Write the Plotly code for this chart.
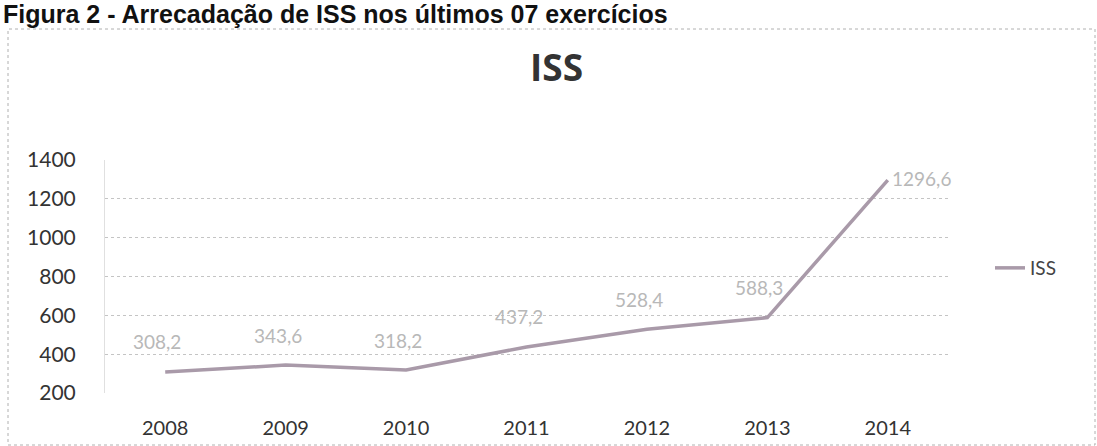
import plotly.graph_objects as go

years = ["2008", "2009", "2010", "2011", "2012", "2013", "2014"]
iss_values = [308.2, 343.6, 318.2, 437.2, 528.4, 588.3, 1296.6]
value_labels = ["308,2", "343,6", "318,2", "437,2", "528,4", "588,3", "1296,6"]
y_ticks = [200, 400, 600, 800, 1000, 1200, 1400]

W, H = 1097, 446
L, R, T, B = 105, 149, 160, 53
pw, ph = W - L - R, H - T - B

def px_x(px):
    return (px - L) / pw

def px_y(py):
    return (H - B - py) / ph

FONT = "Lato, Open Sans, sans-serif"

fig = go.Figure()
fig.add_trace(go.Scatter(
    x=years, y=iss_values, mode="lines", name="ISS",
    line=dict(color="#a99aa9", width=3.5),
))

for i, (v, lab) in enumerate(zip(iss_values, value_labels)):
    last = i == len(years) - 1
    fig.add_annotation(
        x=i, y=v, text=lab, showarrow=False,
        xanchor="left" if last else "center", yanchor="middle",
        xshift=2 if last else -8, yshift=2 if last else 30,
        font=dict(family=FONT, size=19, color="#b8b8b8"),
    )

fig.update_layout(
    width=W, height=H,
    margin=dict(l=L, r=R, t=T, b=B, autoexpand=False),
    paper_bgcolor="white", plot_bgcolor="white",
    showlegend=True,
    legend=dict(x=px_x(990), y=px_y(268), xanchor="left", yanchor="middle",
                font=dict(family=FONT, size=19, color="#444444"),
                bgcolor="rgba(0,0,0,0)"),
    xaxis=dict(type="category", range=[-0.5, len(years) - 0.5], showgrid=False, zeroline=False,
               showline=False, ticks="", ticklabelstandoff=21, automargin=False,
               tickfont=dict(family=FONT, size=20, color="#333333")),
    yaxis=dict(range=[200, 1400], tickvals=y_ticks, showgrid=True,
               gridcolor="#c4c4c4", griddash="dot", gridwidth=1,
               zeroline=False, showline=True, linecolor="#e0e0e0",
               ticklabelstandoff=24, automargin=False,
               tickfont=dict(family=FONT, size=21, color="#333333")),
)

fig.add_annotation(
    text="<b>Figura 2 - Arrecadação de ISS nos últimos 07 exercícios</b>",
    xref="paper", yref="paper", x=px_x(2), y=px_y(-1), xanchor="left", yanchor="top",
    borderpad=0,
    showarrow=False, font=dict(family="Liberation Sans, Arial, sans-serif", size=25, color="#111111"),
)
fig.add_annotation(
    text="<b>ISS</b>",
    xref="paper", yref="paper", x=px_x(556), y=px_y(66), xanchor="center", yanchor="middle",
    showarrow=False, font=dict(family="Open Sans, Lato, sans-serif", size=37, color="#333333"),
)
fig.add_shape(
    type="rect", xref="paper", yref="paper",
    x0=px_x(8), x1=px_x(1095), y0=px_y(445), y1=px_y(29),
    line=dict(color="#b0b0b0", width=1, dash="dot"), layer="below",
)

fig.write_html("out.html")
